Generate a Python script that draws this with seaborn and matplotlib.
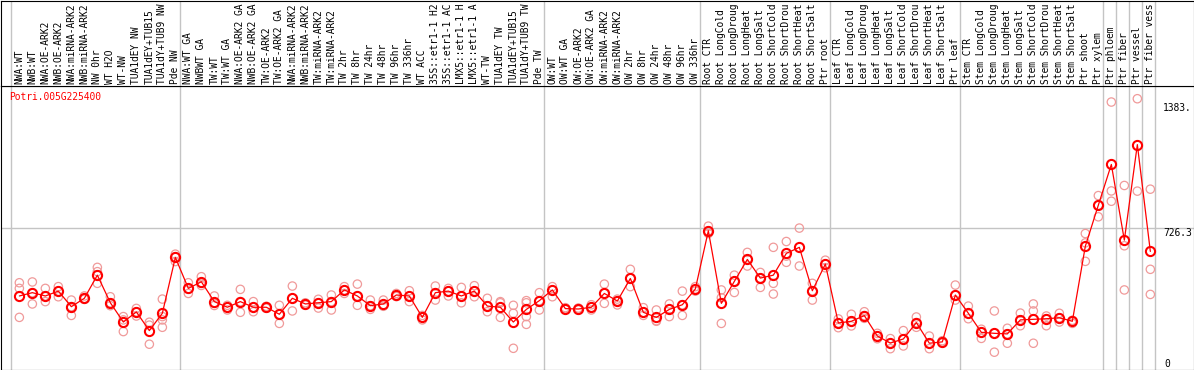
import numpy as np
import pandas as pd
import matplotlib
matplotlib.use("Agg")
import matplotlib.pyplot as plt
import seaborn as sns

# sample labels (text as visible in the chart header)
labels = [
    "NWA:WT", "NWB:WT", "NWA:OE-ARK2", "NWB:OE-ARK2", "NWA:miRNA-ARK2", "NWB:miRNA-ARK2",
    "NW 0hr", "WT H2O", "WT-NW", "TUA1dEY NW", "TUA1dEY+TUB15", "TUA1dY+TUB9 NW", "Pde NW",
    "NWA:WT GA", "NWBWT GA", "TW:WT", "TW:WT GA", "NWA:OE-ARK2 GA", "NWB:OE-ARK2 GA",
    "TW:OE-ARK2", "TW:OE-ARK2 GA", "NWA:miRNA-ARK2", "NWB:miRNA-ARK2", "TW:miRNA-ARK2",
    "TW:miRNA-ARK2", "TW 2hr", "TW 8hr", "TW 24hr", "TW 48hr", "TW 96hr", "TW 336hr",
    "WT ACC", "35S::etr1-1 H2", "35S::etr1-1 AC", "LMX5::etr1-1 H", "LMX5::etr1-1 A",
    "WT-TW", "TUA1dEY TW", "TUA1dEY+TUB15", "TUA1dY+TUB9 TW", "Pde TW",
    "OW:WT", "OW:WT GA", "OW:OE-ARK2", "OW:OE-ARK2 GA", "OW:miRNA-ARK2", "OW:miRNA-ARK2",
    "OW 2hr", "OW 8hr", "OW 24hr", "OW 48hr", "OW 96hr", "OW 336hr",
    "Root CTR", "Root LongCold", "Root LongDroug", "Root LongHeat", "Root LongSalt",
    "Root ShortCold", "Root ShortDrou", "Root ShortHeat", "Root ShortSalt", "Ptr root",
    "Leaf CTR", "Leaf LongCold", "Leaf LongDroug", "Leaf LongHeat", "Leaf LongSalt",
    "Leaf ShortCold", "Leaf ShortDrou", "Leaf ShortHeat", "Leaf ShortSalt", "Ptr leaf",
    "Stem CTR", "Stem LongCold", "Stem LongDroug", "Stem LongHeat", "Stem LongSalt",
    "Stem ShortCold", "Stem ShortDrou", "Stem ShortHeat", "Stem ShortSalt",
    "Ptr shoot", "Ptr xylem", "Ptr phloem", "Ptr fiber", "Ptr vessel", "Ptr fiber vess",
]

# index of the first sample of each group (plus the end)
group_starts = [0, 13, 41, 53, 63, 73, 84, 85, 86, 87, 88]

# mean expression per sample
means = [
    375, 392, 375, 400, 320, 363, 482, 340, 241, 293, 197, 286, 573,
    414, 448, 346, 317, 346, 317, 317, 281, 363, 334, 340, 346, 406, 375, 325,
    334, 380, 375, 265, 392, 400, 375, 400, 323, 317, 241, 306, 351,
    406, 310, 308, 317, 388, 349, 465, 291, 265, 306, 330, 411,
    710, 337, 450, 563, 467, 482, 594, 625, 402, 539,
    236, 245, 274, 169, 133, 154, 238, 132, 139, 380,
    286, 188, 183, 180, 252, 255, 258, 263, 245, 631, 842,
    1051, 662, 1153, 604,
]

# individual replicates per sample
reps = [
    [443, 414, 265], [447, 392, 334], [414, 375, 346], [423, 400, 371],
    [354, 320, 275], [375, 363, 358], [522, 500, 440], [371, 340, 325],
    [269, 252, 192], [311, 293, 272], [240, 225, 127], [359, 269, 252, 214],
    [590, 577, 552],
    [443, 410, 388], [474, 440, 429], [375, 337, 326], [327, 317, 303],
    [409, 346, 291], [346, 317, 294], [322, 317, 312], [327, 281, 234],
    [426, 363, 298], [340, 334, 328], [358, 340, 313], [380, 346, 303],
    [423, 406, 388], [436, 375, 327], [354, 325, 306], [354, 327, 322],
    [388, 380, 372], [402, 375, 346], [275, 265, 252], [426, 392, 354],
    [414, 400, 375], [419, 375, 340], [428, 400, 371], [363, 323, 294],
    [346, 340, 265], [327, 286, 106], [351, 340, 269, 229], [392, 351, 303],
    [423, 406, 371],
    [315, 310, 305], [313, 308, 303], [330, 317, 303], [436, 388, 337],
    [359, 349, 329], [512, 465, 423], [315, 291, 275], [303, 248, 245],
    [334, 306, 269], [400, 330, 275], [423, 411, 400],
    [734, 710, 696], [406, 366, 234], [482, 450, 393], [599, 563, 529],
    [496, 467, 419], [625, 440, 385], [655, 580, 548], [724, 529],
    [440, 402, 354], [559, 539, 520],
    [257, 236, 212], [281, 245, 221], [294, 274, 260], [183, 169, 155],
    [156, 133, 104], [197, 154, 118], [267, 238, 214], [169, 132, 104],
    [145, 139, 133], [431, 380, 354],
    [323, 286, 258], [204, 188, 157], [298, 183, 86], [209, 180, 132],
    [287, 252, 222], [334, 298, 132], [272, 258, 222], [286, 263, 241],
    [250, 245, 234], [696, 648, 553], [891, 842, 782],
    [1372, 915, 862], [943, 633, 406], [1389, 914], [924, 512, 383],
]

gene = "Potri.005G225400"
mid_tick = 726.3
top_tick = "1383."
y_max = 1457

sns.set_theme(style="white")
plt.rcParams["font.family"] = ["DejaVu Sans Mono", "DejaVu Sans"]

n = len(labels)
rep_df = pd.DataFrame([(i, v) for i, vals in enumerate(reps) for v in vals],
                      columns=["sample", "value"])
mean_df = pd.DataFrame({"sample": np.arange(n), "value": means})

W, H = 1194, 370
fig = plt.figure(figsize=(W / 100, H / 100), dpi=100)
ax = fig.add_axes([0.5 / W, 0.5 / H, (W - 1) / W, 284 / H])
top = fig.add_axes([0.5 / W, 284.5 / H, (W - 1) / W, 85 / H], sharex=ax)

red = "#FF0000"
pink = "#F09A9A"
grey = "#C4C4C4"

# replicates
sns.scatterplot(data=rep_df, x="sample", y="value", ax=ax, marker="o", s=36,
                color=pink, facecolors="none", edgecolor=pink, linewidth=0.9,
                zorder=3, legend=False)
ax.collections[-1].set_facecolor("none")

# means
sns.lineplot(data=mean_df, x="sample", y="value", ax=ax, color=red, lw=0.9,
             marker="o", markersize=6.6, markerfacecolor="none",
             markeredgecolor=red, markeredgewidth=1.5, zorder=4, legend=False)

ax.axhline(mid_tick, color=grey, lw=1, zorder=1)
for g in group_starts:
    ax.axvline(g - 0.62, color=grey, lw=1, zorder=1)
    top.axvline(g - 0.62, color=grey, lw=1, zorder=1)

ax.set_xlim(-1.45, 90.32)
ax.set_ylim(-3, y_max)
top.set_ylim(0, 1)
ax.set_xticks([])
ax.set_yticks([])
top.set_yticks([])
ax.set_xlabel("")
ax.set_ylabel("")

for a in (ax, top):
    for sp in a.spines.values():
        sp.set_visible(True)
        sp.set_color("black")
        sp.set_linewidth(0.8)

fs = 6.95
for i, lab in enumerate(labels):
    top.text(i, 0.02, lab, rotation=90, ha="center", va="bottom",
             fontsize=fs, color="black")

ax.text(0.0072, 0.961, gene, transform=ax.transAxes, ha="left", va="center",
        fontsize=fs, color=red)

ax.text(88, mid_tick, f"{mid_tick}", ha="left", va="top", fontsize=fs, color="black")
ax.annotate(top_tick, xy=(88, 1383), xytext=(0, -2), textcoords="offset points",
            ha="left", va="top", fontsize=fs, color="black")
ax.text(88.1, 0, "0", ha="left", va="bottom", fontsize=fs, color="black")

fig.savefig("out.png", dpi=100)
